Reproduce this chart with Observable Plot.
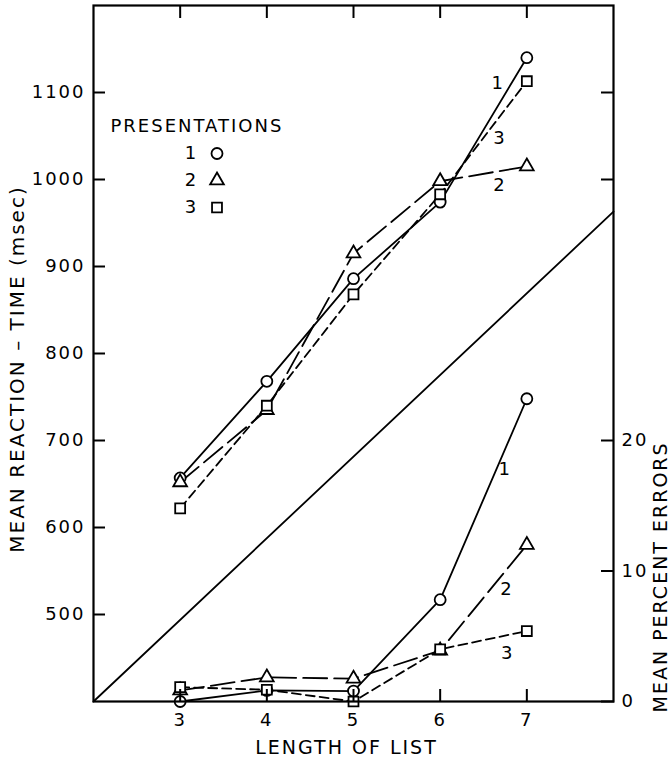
<!DOCTYPE html>
<html><head><meta charset="utf-8">
<script src="https://cdn.jsdelivr.net/npm/d3@7"></script>
<script src="https://cdn.jsdelivr.net/npm/@observablehq/plot@0.6"></script>
<style>
body{margin:0;background:#fff}
#chart svg text{letter-spacing:2px}
#chart g[aria-label="axis title"] text{letter-spacing:2.4px}
#chart g[aria-label="legend title"] text{letter-spacing:2.8px}
</style></head><body><div id="chart"></div>
<script>
// ---- data ----
const listLengths = [3, 4, 5, 6, 7];
const presentations = ["1", "2", "3"];
const presSymbols = ["circle", "triangle", "square"];
// mean reaction time (msec)
const rtPres1 = [657, 768, 886, 974, 1140];
const rtPres2 = [652, 735, 915, 998, 1015];
const rtPres3 = [622, 740, 868, 983, 1113];
// mean percent errors
const errPres1 = [0, 0.85, 0.8, 7.8, 23.2];
const errPres2 = [0.85, 1.85, 1.75, 3.9, 12.0];
const errPres3 = [1.1, 0.9, 0, 4.0, 5.4];
// reference diagonal line
const diagX = [2, 8];
const diagY = [400, 963];
// axis ticks
const xTicks = [3, 4, 5, 6, 7];
const yTicksLeft = [500, 600, 700, 800, 900, 1000, 1100];
const yTicksRightRT = [1000, 1100];
const errTicks = [0, 10, 20];
// error axis mapping onto the msec scale (0% at 400 msec, 20% at 700 msec)
const errBase = 400, errMsecPerPercent = 15;
// curve labels (positions, data units)
const rtLabelText = ["1", "3", "2"];
const rtLabelX = [6.67, 6.69, 6.69];
const rtLabelY = [1111, 1047, 993];
const errLabelText = ["1", "2", "3"];
const errLabelX = [6.75, 6.77, 6.78];
const errLabelY = [17.8, 8.6, 3.7];
// text
const xTitle = "LENGTH OF LIST";
const yTitle = "MEAN REACTION – TIME (msec)";
const y2Title = "MEAN PERCENT ERRORS";
const legendTitle = "PRESENTATIONS";

// ---- build tables ----
const rtSeries = [rtPres1, rtPres2, rtPres3];
const errSeries = [errPres1, errPres2, errPres3];
const toMsec = e => errBase + e * errMsecPerPercent;
const rtRows = presentations.map((p, i) => listLengths.map((x, j) => ({x, y: rtSeries[i][j], p})));
const errRows = presentations.map((p, i) => listLengths.map((x, j) => ({x, y: toMsec(errSeries[i][j]), p})));
const diag = diagX.map((x, i) => ({x, y: diagY[i]}));
const rtLabels = rtLabelText.map((t, i) => ({t, x: rtLabelX[i], y: rtLabelY[i]}));
const errLabels = errLabelText.map((t, i) => ({t, x: errLabelX[i], y: toMsec(errLabelY[i])}));

const dashes = [null, "24,7", "9,5"];
const radii = [5.5, 5.1, 5.6];
const font = "DejaVu Sans";
const T = {fontFamily: font, textAnchor: "middle", lineAnchor: "middle"};

const marks = [
  Plot.line(diag, {x: "x", y: "y", stroke: "black", strokeWidth: 1.8})
];
presentations.forEach((p, i) => {
  for (const rows of [rtRows[i], errRows[i]]) {
    marks.push(Plot.line(rows, {x: "x", y: "y", stroke: "black", strokeWidth: 1.8, strokeDasharray: dashes[i]}));
  }
});
presentations.forEach((p, i) => {
  for (const rows of [rtRows[i], errRows[i]]) {
    marks.push(Plot.dot(rows, {x: "x", y: "y", symbol: presSymbols[i], r: radii[i], fill: "white", stroke: "black", strokeWidth: 1.8}));
  }
});
marks.push(
  Plot.text(rtLabels, {...T, x: "x", y: "y", text: "t", fontSize: 18}),
  Plot.text(errLabels, {...T, x: "x", y: "y", text: "t", fontSize: 18}),
  // legend
  Plot.text([legendTitle], {...T, frameAnchor: "top-left", dx: 17, dy: 121, textAnchor: "start", fontSize: 18, ariaLabel: "legend title"}),
  ...presentations.map((p, i) => Plot.text([p], {...T, frameAnchor: "top-left", dx: 98, dy: 148 + 27 * i, fontSize: 18})),
  ...presentations.map((p, i) => Plot.dot([p], {frameAnchor: "top-left", dx: 123.5, dy: 148 + 27 * i, symbol: presSymbols[i], r: radii[i], fill: "white", stroke: "black", strokeWidth: 1.8})),
  // axes (ticks point inward)
  Plot.axisY({anchor: "left", ticks: yTicksLeft, tickFormat: d => String(d), tickSize: -12, tickPadding: 20, strokeWidth: 2, fontSize: 18, fontFamily: font, label: null}),
  Plot.axisY({anchor: "right", ticks: yTicksRightRT, tickSize: -13, tickFormat: () => "", strokeWidth: 2, label: null}),
  Plot.axisY({anchor: "right", ticks: errTicks.map(toMsec), tickFormat: d => String(Math.round((d - errBase) / errMsecPerPercent)), tickSize: -13, tickPadding: 21, strokeWidth: 2, fontSize: 18, fontFamily: font, label: null}),
  Plot.axisX({anchor: "bottom", ticks: xTicks, tickFormat: d => String(d), tickSize: -12, tickPadding: 24, strokeWidth: 2, fontSize: 18, fontFamily: font, label: null}),
  Plot.axisX({anchor: "top", ticks: xTicks, tickSize: -12, tickFormat: () => "", strokeWidth: 2, label: null}),
  Plot.frame({stroke: "black", strokeWidth: 2.2}),
  // axis titles
  Plot.text([xTitle], {...T, frameAnchor: "bottom", dx: -7, dy: 46, fontSize: 19, ariaLabel: "axis title"}),
  Plot.text([yTitle], {...T, frameAnchor: "left", dx: -76, dy: 15.5, rotate: -90, fontSize: 20, ariaLabel: "axis title"}),
  Plot.text([y2Title], {...T, frameAnchor: "bottom-right", dx: 47.5, dy: 11, rotate: -90, textAnchor: "start", fontSize: 19, ariaLabel: "axis title"})
);

const chart = Plot.plot({
  width: 672,
  height: 759,
  marginLeft: 93,
  marginRight: 59,
  marginTop: 5,
  marginBottom: 58,
  style: {fontFamily: font, color: "black", background: "white"},
  x: {domain: [2, 8]},
  y: {domain: [400, 1200]},
  marks
});
document.getElementById("chart").appendChild(chart);
</script>
</body></html>
